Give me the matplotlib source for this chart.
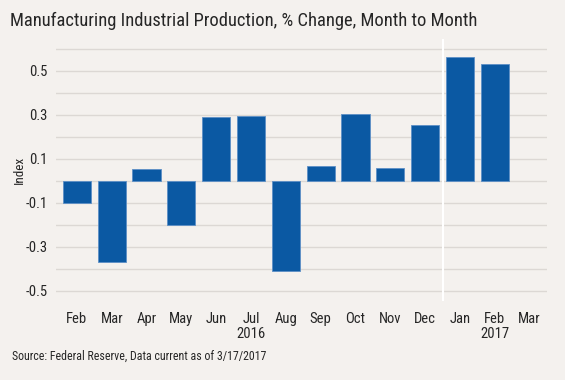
import matplotlib.pyplot as plt
from matplotlib import font_manager
import matplotlib.transforms as mtransforms

# data
months = ['Feb', 'Mar', 'Apr', 'May', 'Jun', 'Jul', 'Aug', 'Sep', 'Oct', 'Nov', 'Dec', 'Jan', 'Feb', 'Mar']
changes = [-0.10, -0.37, 0.055, -0.20, 0.29, 0.294, -0.41, 0.067, 0.306, 0.06, 0.255, 0.562, 0.532, None]
years = ['2016', '2017']
year_positions = [5, 12]
ytick_values = [-0.5, -0.3, -0.1, 0.1, 0.3, 0.5]

names = {f.name for f in font_manager.fontManager.ttflist}
cond = 'Roboto Condensed' if 'Roboto Condensed' in names else 'DejaVu Sans'
plt.rcParams['font.family'] = [cond, 'DejaVu Sans']

bg = '#f4f1ee'
text_col = '#262626'

fig = plt.figure(figsize=(5.65, 3.8), dpi=100, facecolor=bg)
ax = fig.add_axes([56 / 565, 1 - 300.7 / 380, (547 - 56) / 565, (300.7 - 39) / 380])
ax.set_facecolor(bg)

x = list(range(len(months)))
heights = [v if v is not None else float('nan') for v in changes]
ax.bar(x, heights, width=0.81, color='#0b59a3', edgecolor='#5d8fc6', linewidth=0.6, zorder=3)

# gridlines every 0.1
for k in range(-5, 7):
    ax.axhline(k / 10, color='#dcd8d4', linewidth=1.0, zorder=1)
ax.axvline(10.5, color='white', linewidth=1.5, zorder=2)

ax.set_xlim(-0.6, 13.5)
ax.set_ylim(-0.545, 0.645)
ax.set_yticks(ytick_values)
ax.set_yticklabels(['%.1f' % v for v in ytick_values])
ax.set_xticks(x)
ax.set_xticklabels(months)
ax.tick_params(length=0, colors=text_col)
ax.tick_params(axis='y', labelsize=10.5, pad=6)
ax.tick_params(axis='x', labelsize=10.5, pad=8)
for s in ax.spines.values():
    s.set_visible(False)

fig.text(19 / 565, 1 - 170 / 380, 'Index', rotation=90, ha='center', va='center',
         fontsize=9.5, color=text_col)

trans = mtransforms.blended_transform_factory(ax.transData, fig.transFigure)
for yr, pos in zip(years, year_positions):
    ax.text(pos, 1 - 334 / 380, yr, transform=trans, ha='center', va='center',
            fontsize=10.5, color=text_col)

fig.text(10 / 565, 1 - 21 / 380, 'Manufacturing Industrial Production, % Change, Month to Month',
         ha='left', va='center', fontsize=13.3, color=text_col)
fig.text(12 / 565, 1 - 356 / 380, 'Source: Federal Reserve, Data current as of 3/17/2017',
         ha='left', va='center', fontsize=8.6, color=text_col)

fig.savefig('out.png', dpi=100, facecolor=bg)
